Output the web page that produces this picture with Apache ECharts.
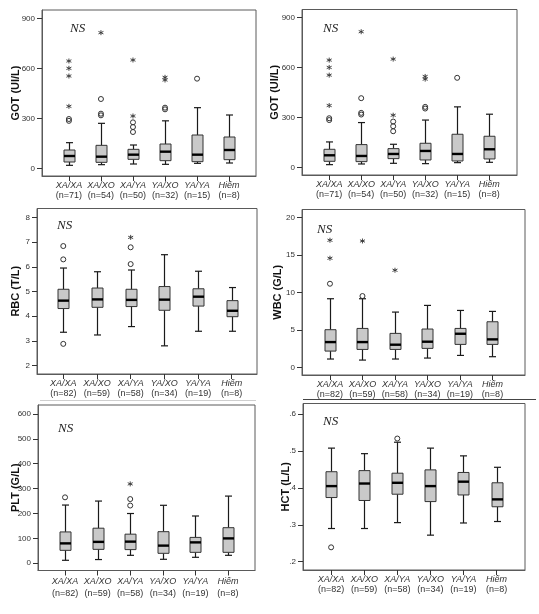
<!DOCTYPE html>
<html>
<head>
<meta charset="utf-8">
<script src="https://cdn.jsdelivr.net/npm/echarts@6/dist/echarts.min.js"></script>
<style>
html,body{margin:0;padding:0;background:#fff;}
#c{width:539px;height:614px;}
</style>
</head>
<body>
<div id="c"></div>
<script>
// ---------- data ----------
const categories = ['XA/XA', 'XA/XO', 'XA/YA', 'YA/XO', 'YA/YA', 'Hiếm'];
const nGot = [71, 54, 50, 32, 15, 8];
const nOther = [82, 59, 58, 34, 19, 8];

// box stats: [min, Q1, median, Q3, max]
const gotBoxes = [
  [18, 38, 74, 110, 154],
  [22, 36, 70, 138, 270],
  [26, 54, 82, 114, 140],
  [24, 46, 100, 146, 285],
  [30, 40, 82, 200, 364],
  [32, 52, 110, 188, 320]
];
const gotCircles = [[0, 285], [0, 296], [1, 416], [1, 318], [1, 328], [2, 218], [2, 248], [2, 276], [3, 354], [3, 364], [4, 538]];
const gotStars = [[0, 644], [0, 600], [0, 554], [0, 372], [1, 814], [2, 314], [2, 650], [3, 530], [3, 546]];

const rbcBoxes = [
  [3.35, 4.31, 4.63, 5.09, 5.95],
  [3.24, 4.36, 4.68, 5.14, 5.80],
  [3.58, 4.39, 4.66, 5.09, 5.87],
  [2.80, 4.24, 4.67, 5.20, 6.49],
  [3.39, 4.41, 4.79, 5.11, 5.82],
  [3.39, 3.98, 4.22, 4.63, 5.16]
];
const rbcCircles = [[0, 6.84], [0, 6.30], [0, 2.88], [2, 6.79], [2, 6.11]];
const rbcStars = [[2, 7.19]];

const wbcBoxes = [
  [1.16, 2.22, 3.42, 5.07, 9.2],
  [1.02, 2.44, 3.42, 5.24, 9.2],
  [1.16, 2.44, 3.07, 4.58, 7.42],
  [1.29, 2.58, 3.47, 5.16, 8.31],
  [1.64, 3.11, 4.53, 5.24, 7.64],
  [1.47, 3.11, 3.78, 6.13, 7.51]
];
const wbcCircles = [[0, 11.2], [1, 9.56]];
const wbcStars = [[0, 14.6], [0, 17.0], [1, 16.9], [2, 13.0]];

const pltBoxes = [
  [12, 52, 80, 126, 234],
  [15, 56, 86, 141, 250],
  [32, 55, 87, 117, 200],
  [16, 40, 71, 127, 233],
  [24, 44, 84, 104, 190],
  [32, 44, 100, 143, 270]
];
const pltCircles = [[0, 265], [2, 258], [2, 232]];
const pltStars = [[2, 319]];

const hctBoxes = [
  [0.290, 0.374, 0.405, 0.444, 0.508],
  [0.290, 0.366, 0.412, 0.447, 0.493],
  [0.306, 0.383, 0.414, 0.440, 0.524],
  [0.272, 0.363, 0.405, 0.449, 0.508],
  [0.305, 0.381, 0.417, 0.442, 0.487],
  [0.309, 0.349, 0.369, 0.414, 0.456]
];
const hctCircles = [[0, 0.239], [2, 0.534]];
const hctStars = [];

const gotTicks = [0, 300, 600, 900];
const rbcTicks = [2, 3, 4, 5, 6, 7, 8];
const wbcTicks = [0, 5, 10, 15, 20];
const pltTicks = [0, 100, 200, 300, 400, 500, 600];
const hctTicks = [0.2, 0.3, 0.4, 0.5, 0.6];

// ---------- layout ----------
const panels = [
  {name: 'GOT (UI/L)', boxes: gotBoxes, circles: gotCircles, stars: gotStars, n: nGot, ticks: gotTicks,
   L: 42, R: 256, T: 10, B: 176, xmin: -0.84, xmax: 5.84, ymin: -46, ymax: 950, gap: 21, ns: [70, 29], lh: 9.5, fmt: null},
  {name: 'GOT (UI/L)', boxes: gotBoxes, circles: gotCircles, stars: gotStars, n: nGot, ticks: gotTicks,
   L: 302, R: 517, T: 9.5, B: 175, xmin: -0.85, xmax: 5.87, ymin: -44, ymax: 947, gap: 22, ns: [323, 29], lh: 9.5, fmt: null},
  {name: 'RBC (T/L)', boxes: rbcBoxes, circles: rbcCircles, stars: rbcStars, n: nOther, ticks: rbcTicks,
   L: 37, R: 257, T: 208.5, B: 374, xmin: -0.78, xmax: 5.75, ymin: 1.66, ymax: 8.36, gap: 16, ns: [57, 226], lh: 9.5, fmt: null},
  {name: 'WBC (G/L)', boxes: wbcBoxes, circles: wbcCircles, stars: wbcStars, n: nOther, ticks: wbcTicks,
   L: 302, R: 525, T: 209.5, B: 375, xmin: -0.86, xmax: 6.0, ymin: -0.97, ymax: 21.1, gap: 19, ns: [317, 230], lh: 9.5, fmt: null},
  {name: 'PLT (G/L)', boxes: pltBoxes, circles: pltCircles, stars: pltStars, n: nOther, ticks: pltTicks,
   L: 38, R: 255, T: 405, B: 570.5, xmin: -0.83, xmax: 5.83, ymin: -29, ymax: 636, gap: 17, ns: [58, 429], lh: 12, fmt: null},
  {name: 'HCT (L/L)', boxes: hctBoxes, circles: hctCircles, stars: hctStars, n: nOther, ticks: hctTicks,
   L: 303, R: 525, T: 403.5, B: 570, xmin: -0.85, xmax: 5.86, ymin: 0.1775, ymax: 0.629, gap: 12, ns: [323, 422], lh: 9.5,
   fmt: v => String(Math.round(v * 10) / 10).replace(/^0/, '')}
];

const NARROW = '"Liberation Sans Narrow", "Arial Narrow", "Liberation Sans", Arial, sans-serif';
const ASTERISK = 'path://M0,-5L0,5M-4.33,-2.5L4.33,2.5M-4.33,2.5L4.33,-2.5';

function renderBox(params, api) {
  const x = api.value(0);
  const lo = api.coord([x, api.value(1)]);
  const q1 = api.coord([x, api.value(2)]);
  const md = api.coord([x, api.value(3)]);
  const q3 = api.coord([x, api.value(4)]);
  const hi = api.coord([x, api.value(5)]);
  const cx = Math.round(lo[0]) + 0.5;
  const bw = 11, cw = 7;
  const ls = {stroke: '#1a1a1a', lineWidth: 1.2};
  return {
    type: 'group',
    children: [
      {type: 'line', shape: {x1: cx, y1: hi[1], x2: cx, y2: q3[1]}, style: ls},
      {type: 'line', shape: {x1: cx, y1: q1[1], x2: cx, y2: lo[1]}, style: ls},
      {type: 'line', shape: {x1: cx - cw / 2, y1: hi[1], x2: cx + cw / 2, y2: hi[1]}, style: ls},
      {type: 'line', shape: {x1: cx - cw / 2, y1: lo[1], x2: cx + cw / 2, y2: lo[1]}, style: ls},
      {type: 'rect', shape: {x: cx - bw / 2, y: q3[1], width: bw, height: q1[1] - q3[1]},
       style: {fill: '#c9c9c9', stroke: '#333', lineWidth: 1}},
      {type: 'line', shape: {x1: cx - bw / 2, y1: md[1], x2: cx + bw / 2, y2: md[1]},
       style: {stroke: '#000', lineWidth: 2.4}}
    ]
  };
}

const grids = [], xAxes = [], yAxes = [], series = [], graphics = [];

panels.forEach((p, i) => {
  grids.push({
    left: p.L, top: p.T, width: p.R - p.L, height: p.B - p.T,
    show: true, borderColor: '#5a5a5a', borderWidth: 1, backgroundColor: 'transparent',
    containLabel: false, outerBoundsMode: 'none'
  });
  const idx = [0, 1, 2, 3, 4, 5];
  xAxes.push({
    type: 'value', gridIndex: i, min: p.xmin, max: p.xmax, position: 'bottom',
    splitLine: {show: false},
    axisLine: {show: true, onZero: false, lineStyle: {color: '#5a5a5a', width: 1}},
    axisTick: {show: true, inside: false, length: 5, customValues: idx, lineStyle: {color: '#333', width: 1}},
    axisLabel: {
      show: true, margin: 5, customValues: idx,
      formatter: v => {
        const k = Math.round(v);
        return '{a|' + categories[k] + '}\n{b|(n=' + p.n[k] + ')}';
      },
      rich: {
        a: {fontStyle: 'italic', fontSize: 9, fontFamily: NARROW, color: '#333', lineHeight: p.lh},
        b: {fontSize: 9, fontFamily: NARROW, color: '#333', lineHeight: p.lh}
      }
    }
  });
  yAxes.push({
    type: 'value', gridIndex: i, min: p.ymin, max: p.ymax, position: 'left',
    splitLine: {show: false},
    axisLine: {show: true, onZero: false, lineStyle: {color: '#5a5a5a', width: 1}},
    axisTick: {show: true, inside: false, length: 5, customValues: p.ticks, lineStyle: {color: '#333', width: 1}},
    axisLabel: {
      show: true, margin: 7, customValues: p.ticks,
      fontSize: 8, fontFamily: NARROW, color: '#333',
      formatter: p.fmt ? p.fmt : (v => String(v))
    },
    name: p.name, nameLocation: 'middle', nameGap: p.gap, nameRotate: 90, nameMoveOverlap: false,
    nameTextStyle: {fontSize: 11, fontWeight: 'bold', fontFamily: '"Liberation Sans", Arial, sans-serif', color: '#111'}
  });
  series.push({
    type: 'custom', xAxisIndex: i, yAxisIndex: i, renderItem: renderBox,
    data: p.boxes.map((b, k) => [k].concat(b)), z: 3
  });
  series.push({
    type: 'scatter', xAxisIndex: i, yAxisIndex: i, symbol: 'circle', symbolSize: 5,
    itemStyle: {color: 'rgba(255,255,255,0)', borderColor: '#333', borderWidth: 1, opacity: 1},
    data: p.circles, z: 4
  });
  series.push({
    type: 'scatter', xAxisIndex: i, yAxisIndex: i, symbol: ASTERISK, symbolSize: 5,
    itemStyle: {color: '#333', borderColor: '#333', borderWidth: 0.9, opacity: 1},
    data: p.stars, z: 4
  });
  graphics.push({
    type: 'text', x: p.ns[0], y: p.ns[1], z: 10,
    style: {text: 'NS', font: 'italic 13px "Liberation Serif", "Times New Roman", serif', fill: '#222', textAlign: 'left', textVerticalAlign: 'middle'}
  });
});

// decorative separator lines from the source layout
graphics.push({type: 'line', shape: {x1: 303, y1: 399.5, x2: 536, y2: 399.5}, style: {stroke: '#444', lineWidth: 1}});
graphics.push({type: 'line', shape: {x1: 40, y1: 400.5, x2: 256, y2: 400.5}, style: {stroke: '#cfcfcf', lineWidth: 1}});

const chart = echarts.init(document.getElementById('c'), null, {renderer: 'canvas'});
chart.setOption({
  animation: false,
  backgroundColor: '#fff',
  grid: grids,
  xAxis: xAxes,
  yAxis: yAxes,
  series: series,
  graphic: graphics
});
</script>
</body>
</html>
